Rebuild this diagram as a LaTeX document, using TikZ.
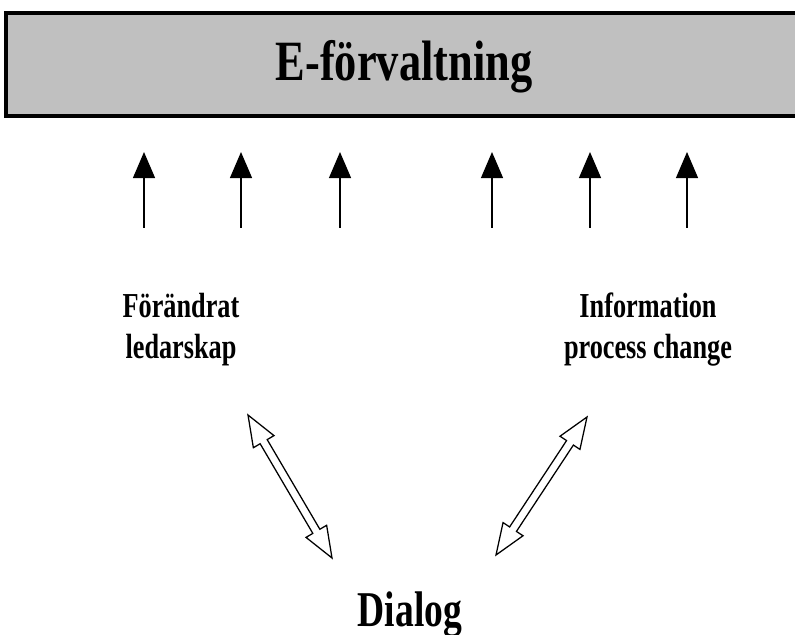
\documentclass[tikz,border=0pt]{standalone}
\usepackage{fontspec}
\newfontfamily\condserif[FakeStretch=0.75]{Liberation Serif}
\newfontfamily\titleserif[FakeStretch=0.78]{Liberation Serif}
\usetikzlibrary{calc}
\usetikzlibrary{arrows.meta}
\definecolor{boxgray}{HTML}{C0C0C0}
\tikzset{>=latex}
\tikzset{
  titlebox/.style={draw=black, line width=2.2pt, fill=boxgray},
  titletext/.style={font=\titleserif\bfseries\fontsize{40.5}{48}\selectfont, inner sep=0pt, anchor=base},
  labeltext/.style={font=\condserif\bfseries\fontsize{24.9}{29.2}\selectfont, align=center, inner sep=0pt},
  dialogtext/.style={font=\condserif\bfseries\fontsize{35.6}{42}\selectfont, inner sep=0pt, anchor=base},
  uparrow/.style={line width=1pt, -{Triangle[length=18.5pt, width=15.6pt]}},
  hollow/.style={draw=black, fill=white, line width=0.9pt, line join=miter}
}
% hollow double headed arrow between two named coordinates
\newcommand{\hollowarrow}[2]{%
  \draw[hollow] (#1)
    -- ($(#1)!22pt!(#2)!8.5pt!90:(#2)$) -- ($(#1)!22pt!(#2)!2.9pt!90:(#2)$)
    -- ($(#2)!22pt!(#1)!2.9pt!-90:(#1)$) -- ($(#2)!22pt!(#1)!8.5pt!-90:(#1)$)
    -- (#2)
    -- ($(#2)!22pt!(#1)!8.5pt!90:(#1)$) -- ($(#2)!22pt!(#1)!2.9pt!90:(#1)$)
    -- ($(#1)!22pt!(#2)!2.9pt!-90:(#2)$) -- ($(#1)!22pt!(#2)!8.5pt!-90:(#2)$)
    -- cycle;}

\begin{document}
\begin{tikzpicture}[x=0.025cm, y=-0.025cm]
    \clip (0,0) rectangle (795,635);

    % top box
    \draw[titlebox] (6,13) rectangle (830,116);
    \node[titletext] (title) at (404,81) {E-förvaltning};

    % arrows up to the box
    \foreach \x [count=\i] in {144,241,340,492,590,687} {
        \coordinate (tail\i) at (\x,228);
        \coordinate (tip\i) at (\x,152);
        \draw[uparrow] (tail\i) -- (tip\i);
    }

    % the two labels
    \node[labeltext] (leader) at (181,330) {Förändrat\\ledarskap};
    \node[labeltext] (info) at (648,330) {Information\\process change};

    % dialog
    \node[dialogtext] (dialog) at (410,626) {Dialog};

    % ends of the hollow arrows
    \coordinate (la) at (248,415);
    \coordinate (lb) at (332,558);
    \coordinate (ra) at (587,417);
    \coordinate (rb) at (496,555);
    \hollowarrow{la}{lb}
    \hollowarrow{ra}{rb}
\end{tikzpicture}
\end{document}
